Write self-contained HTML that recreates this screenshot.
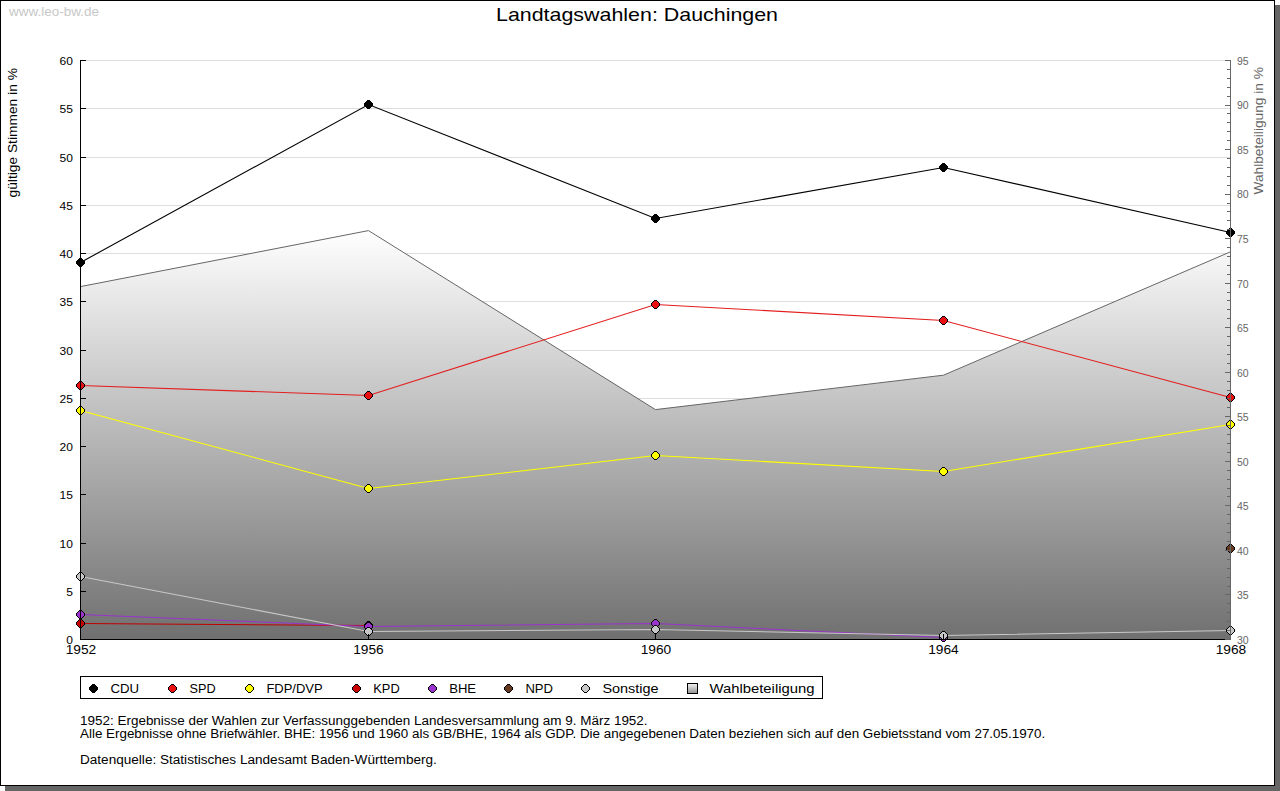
<!DOCTYPE html>
<html><head><meta charset="utf-8"><style>
html,body{margin:0;padding:0;background:#fff;width:1280px;height:791px;overflow:hidden}
svg{display:block}
text{font-family:"Liberation Sans",sans-serif}
</style></head><body>
<svg width="1280" height="791" viewBox="0 0 1280 791">
<defs>
<linearGradient id="ag" gradientUnits="userSpaceOnUse" x1="0" y1="230" x2="0" y2="639">
<stop offset="0" stop-color="#ffffff"/><stop offset="1" stop-color="#707070"/></linearGradient>
<linearGradient id="lg" x1="0" y1="0" x2="0" y2="1">
<stop offset="0" stop-color="#f4f4f4"/><stop offset="1" stop-color="#909090"/></linearGradient>
</defs>
<rect x="0" y="0" width="1280" height="791" fill="#fff"/>
<rect x="5" y="786" width="1275" height="5" fill="#666"/>
<rect x="1275" y="5" width="5" height="786" fill="#666"/>
<rect x="0.5" y="0.5" width="1274" height="785" fill="#fff" stroke="#000" stroke-width="1"/>

<text x="9" y="16" font-size="13.5" fill="#c8c8c8">www.leo-bw.de</text>
<text x="496" y="20.5" font-size="19" textLength="282.0" lengthAdjust="spacingAndGlyphs" fill="#000">Landtagswahlen: Dauchingen</text>
<text transform="translate(16.5,197.5) rotate(-90)" x="0" y="0" font-size="12" textLength="129.4" lengthAdjust="spacingAndGlyphs" fill="#000">gültige Stimmen in %</text>
<text transform="translate(1263,194.5) rotate(-90)" x="0" y="0" font-size="13.7" fill="#666">Wahlbeteiligung in %</text>
<path d="M81,591.5H1230 M81,543.5H1230 M81,494.5H1230 M81,446.5H1230 M81,398.5H1230 M81,350.5H1230 M81,301.5H1230 M81,253.5H1230 M81,205.5H1230 M81,157.5H1230 M81,108.5H1230 M81,60.5H1230" stroke="#dddddd" stroke-width="1" fill="none"/>
<polygon points="80,639 80.5,286.6 368.5,230.6 655.5,409.6 943.5,375.2 1230.5,251.8 1230,639" fill="url(#ag)"/>
<polyline points="80.5,286.6 368.5,230.6 655.5,409.6 943.5,375.2 1230.5,251.8" fill="none" stroke="#666" stroke-width="1"/>
<polyline points="80.5,262.5 368.5,104.5 655.5,218.5 943.5,167.5 1230.5,232.5" fill="none" stroke="#000000" stroke-width="1.1"/>
<polyline points="80.5,385.5 368.5,395.5 655.5,304.5 943.5,320.5 1230.5,397.5" fill="none" stroke="#e31e1e" stroke-width="1.1"/>
<polyline points="80.5,410.5 368.5,488.5 655.5,455.5 943.5,471.5 1230.5,424.5" fill="none" stroke="#ffff00" stroke-width="1.1"/>
<polyline points="80.5,623.5 368.5,625.5" fill="none" stroke="#c00000" stroke-width="1.1"/>
<polyline points="80.5,614.5 368.5,626.5 655.5,623.5 943.5,637.5" fill="none" stroke="#9933cc" stroke-width="1.1"/>
<polyline points="80.5,576.5 368.5,631.5 655.5,629.5 943.5,635.5 1230.5,630.5" fill="none" stroke="#c8c8c8" stroke-width="1.1"/>
<path d="M79.5,258.5 L81.5,258.5 L84.5,261.5 L84.5,263.5 L81.5,266.5 L79.5,266.5 L76.5,263.5 L76.5,261.5Z" fill="#000000" stroke="#000" stroke-width="1" shape-rendering="crispEdges"/>
<path d="M367.5,100.5 L369.5,100.5 L372.5,103.5 L372.5,105.5 L369.5,108.5 L367.5,108.5 L364.5,105.5 L364.5,103.5Z" fill="#000000" stroke="#000" stroke-width="1" shape-rendering="crispEdges"/>
<path d="M654.5,214.5 L656.5,214.5 L659.5,217.5 L659.5,219.5 L656.5,222.5 L654.5,222.5 L651.5,219.5 L651.5,217.5Z" fill="#000000" stroke="#000" stroke-width="1" shape-rendering="crispEdges"/>
<path d="M942.5,163.5 L944.5,163.5 L947.5,166.5 L947.5,168.5 L944.5,171.5 L942.5,171.5 L939.5,168.5 L939.5,166.5Z" fill="#000000" stroke="#000" stroke-width="1" shape-rendering="crispEdges"/>
<path d="M1229.5,228.5 L1231.5,228.5 L1234.5,231.5 L1234.5,233.5 L1231.5,236.5 L1229.5,236.5 L1226.5,233.5 L1226.5,231.5Z" fill="#000000" stroke="#000" stroke-width="1" shape-rendering="crispEdges"/>
<path d="M79.5,381.5 L81.5,381.5 L84.5,384.5 L84.5,386.5 L81.5,389.5 L79.5,389.5 L76.5,386.5 L76.5,384.5Z" fill="#e81010" stroke="#000" stroke-width="1" shape-rendering="crispEdges"/>
<path d="M367.5,391.5 L369.5,391.5 L372.5,394.5 L372.5,396.5 L369.5,399.5 L367.5,399.5 L364.5,396.5 L364.5,394.5Z" fill="#e81010" stroke="#000" stroke-width="1" shape-rendering="crispEdges"/>
<path d="M654.5,300.5 L656.5,300.5 L659.5,303.5 L659.5,305.5 L656.5,308.5 L654.5,308.5 L651.5,305.5 L651.5,303.5Z" fill="#e81010" stroke="#000" stroke-width="1" shape-rendering="crispEdges"/>
<path d="M942.5,316.5 L944.5,316.5 L947.5,319.5 L947.5,321.5 L944.5,324.5 L942.5,324.5 L939.5,321.5 L939.5,319.5Z" fill="#e81010" stroke="#000" stroke-width="1" shape-rendering="crispEdges"/>
<path d="M1229.5,393.5 L1231.5,393.5 L1234.5,396.5 L1234.5,398.5 L1231.5,401.5 L1229.5,401.5 L1226.5,398.5 L1226.5,396.5Z" fill="#e81010" stroke="#000" stroke-width="1" shape-rendering="crispEdges"/>
<path d="M79.5,406.5 L81.5,406.5 L84.5,409.5 L84.5,411.5 L81.5,414.5 L79.5,414.5 L76.5,411.5 L76.5,409.5Z" fill="#ffff00" stroke="#000" stroke-width="1" shape-rendering="crispEdges"/>
<path d="M367.5,484.5 L369.5,484.5 L372.5,487.5 L372.5,489.5 L369.5,492.5 L367.5,492.5 L364.5,489.5 L364.5,487.5Z" fill="#ffff00" stroke="#000" stroke-width="1" shape-rendering="crispEdges"/>
<path d="M654.5,451.5 L656.5,451.5 L659.5,454.5 L659.5,456.5 L656.5,459.5 L654.5,459.5 L651.5,456.5 L651.5,454.5Z" fill="#ffff00" stroke="#000" stroke-width="1" shape-rendering="crispEdges"/>
<path d="M942.5,467.5 L944.5,467.5 L947.5,470.5 L947.5,472.5 L944.5,475.5 L942.5,475.5 L939.5,472.5 L939.5,470.5Z" fill="#ffff00" stroke="#000" stroke-width="1" shape-rendering="crispEdges"/>
<path d="M1229.5,420.5 L1231.5,420.5 L1234.5,423.5 L1234.5,425.5 L1231.5,428.5 L1229.5,428.5 L1226.5,425.5 L1226.5,423.5Z" fill="#ffff00" stroke="#000" stroke-width="1" shape-rendering="crispEdges"/>
<path d="M79.5,619.5 L81.5,619.5 L84.5,622.5 L84.5,624.5 L81.5,627.5 L79.5,627.5 L76.5,624.5 L76.5,622.5Z" fill="#c80000" stroke="#000" stroke-width="1" shape-rendering="crispEdges"/>
<path d="M367.5,621.5 L369.5,621.5 L372.5,624.5 L372.5,626.5 L369.5,629.5 L367.5,629.5 L364.5,626.5 L364.5,624.5Z" fill="#c80000" stroke="#000" stroke-width="1" shape-rendering="crispEdges"/>
<path d="M79.5,610.5 L81.5,610.5 L84.5,613.5 L84.5,615.5 L81.5,618.5 L79.5,618.5 L76.5,615.5 L76.5,613.5Z" fill="#9933cc" stroke="#000" stroke-width="1" shape-rendering="crispEdges"/>
<path d="M367.5,622.5 L369.5,622.5 L372.5,625.5 L372.5,627.5 L369.5,630.5 L367.5,630.5 L364.5,627.5 L364.5,625.5Z" fill="#9933cc" stroke="#000" stroke-width="1" shape-rendering="crispEdges"/>
<path d="M654.5,619.5 L656.5,619.5 L659.5,622.5 L659.5,624.5 L656.5,627.5 L654.5,627.5 L651.5,624.5 L651.5,622.5Z" fill="#9933cc" stroke="#000" stroke-width="1" shape-rendering="crispEdges"/>
<path d="M942.5,633.5 L944.5,633.5 L947.5,636.5 L947.5,638.5 L944.5,641.5 L942.5,641.5 L939.5,638.5 L939.5,636.5Z" fill="#9933cc" stroke="#000" stroke-width="1" shape-rendering="crispEdges"/>
<path d="M1229.5,544.5 L1231.5,544.5 L1234.5,547.5 L1234.5,549.5 L1231.5,552.5 L1229.5,552.5 L1226.5,549.5 L1226.5,547.5Z" fill="#663a22" stroke="#000" stroke-width="1" shape-rendering="crispEdges"/>
<path d="M79.5,572.5 L81.5,572.5 L84.5,575.5 L84.5,577.5 L81.5,580.5 L79.5,580.5 L76.5,577.5 L76.5,575.5Z" fill="#c8c8c8" stroke="#000" stroke-width="1" shape-rendering="crispEdges"/>
<path d="M367.5,627.5 L369.5,627.5 L372.5,630.5 L372.5,632.5 L369.5,635.5 L367.5,635.5 L364.5,632.5 L364.5,630.5Z" fill="#c8c8c8" stroke="#000" stroke-width="1" shape-rendering="crispEdges"/>
<path d="M654.5,625.5 L656.5,625.5 L659.5,628.5 L659.5,630.5 L656.5,633.5 L654.5,633.5 L651.5,630.5 L651.5,628.5Z" fill="#c8c8c8" stroke="#000" stroke-width="1" shape-rendering="crispEdges"/>
<path d="M942.5,631.5 L944.5,631.5 L947.5,634.5 L947.5,636.5 L944.5,639.5 L942.5,639.5 L939.5,636.5 L939.5,634.5Z" fill="#c8c8c8" stroke="#000" stroke-width="1" shape-rendering="crispEdges"/>
<path d="M1229.5,626.5 L1231.5,626.5 L1234.5,629.5 L1234.5,631.5 L1231.5,634.5 L1229.5,634.5 L1226.5,631.5 L1226.5,629.5Z" fill="#c8c8c8" stroke="#000" stroke-width="1" shape-rendering="crispEdges"/>
<g shape-rendering="crispEdges">
<path d="M80.5,60V640" stroke="#000" stroke-width="1"/>
<path d="M80,639.5H1225" stroke="#000" stroke-width="1"/>
<path d="M80,639.5H86 M80,591.5H86 M80,543.5H86 M80,494.5H86 M80,446.5H86 M80,398.5H86 M80,350.5H86 M80,301.5H86 M80,253.5H86 M80,205.5H86 M80,157.5H86 M80,108.5H86 M80,60.5H86" stroke="#000" stroke-width="1"/>
<path d="M368.5,634V639 M655.5,634V639 M943.5,634V639 M1230.5,634V639" stroke="#000" stroke-width="1"/>
<path d="M1230.5,60V640" stroke="#666" stroke-width="1"/>
<path d="M1225,639.5H1230 M1227,630.5H1230 M1227,621.5H1230 M1227,612.5H1230 M1227,603.5H1230 M1225,594.5H1230 M1227,586.5H1230 M1227,577.5H1230 M1227,568.5H1230 M1227,559.5H1230 M1225,550.5H1230 M1227,541.5H1230 M1227,532.5H1230 M1227,523.5H1230 M1227,514.5H1230 M1225,505.5H1230 M1227,496.5H1230 M1227,488.5H1230 M1227,479.5H1230 M1227,470.5H1230 M1225,461.5H1230 M1227,452.5H1230 M1227,443.5H1230 M1227,434.5H1230 M1227,425.5H1230 M1225,416.5H1230 M1227,407.5H1230 M1227,398.5H1230 M1227,390.5H1230 M1227,381.5H1230 M1225,372.5H1230 M1227,363.5H1230 M1227,354.5H1230 M1227,345.5H1230 M1227,336.5H1230 M1225,327.5H1230 M1227,318.5H1230 M1227,309.5H1230 M1227,300.5H1230 M1227,292.5H1230 M1225,283.5H1230 M1227,274.5H1230 M1227,265.5H1230 M1227,256.5H1230 M1227,247.5H1230 M1225,238.5H1230 M1227,229.5H1230 M1227,220.5H1230 M1227,211.5H1230 M1227,203.5H1230 M1225,194.5H1230 M1227,185.5H1230 M1227,176.5H1230 M1227,167.5H1230 M1227,158.5H1230 M1225,149.5H1230 M1227,140.5H1230 M1227,131.5H1230 M1227,122.5H1230 M1227,113.5H1230 M1225,105.5H1230 M1227,96.5H1230 M1227,87.5H1230 M1227,78.5H1230 M1227,69.5H1230 M1225,60.5H1230" stroke="#666" stroke-width="1"/>
</g>
<text x="73" y="644.0" font-size="10.5" text-anchor="end" textLength="6.68" lengthAdjust="spacingAndGlyphs" fill="#000">0</text>
<text x="73" y="595.8" font-size="10.5" text-anchor="end" textLength="6.68" lengthAdjust="spacingAndGlyphs" fill="#000">5</text>
<text x="73" y="547.5" font-size="10.5" text-anchor="end" textLength="13.36" lengthAdjust="spacingAndGlyphs" fill="#000">10</text>
<text x="73" y="499.2" font-size="10.5" text-anchor="end" textLength="13.36" lengthAdjust="spacingAndGlyphs" fill="#000">15</text>
<text x="73" y="451.0" font-size="10.5" text-anchor="end" textLength="13.36" lengthAdjust="spacingAndGlyphs" fill="#000">20</text>
<text x="73" y="402.8" font-size="10.5" text-anchor="end" textLength="13.36" lengthAdjust="spacingAndGlyphs" fill="#000">25</text>
<text x="73" y="354.5" font-size="10.5" text-anchor="end" textLength="13.36" lengthAdjust="spacingAndGlyphs" fill="#000">30</text>
<text x="73" y="306.2" font-size="10.5" text-anchor="end" textLength="13.36" lengthAdjust="spacingAndGlyphs" fill="#000">35</text>
<text x="73" y="258.0" font-size="10.5" text-anchor="end" textLength="13.36" lengthAdjust="spacingAndGlyphs" fill="#000">40</text>
<text x="73" y="209.8" font-size="10.5" text-anchor="end" textLength="13.36" lengthAdjust="spacingAndGlyphs" fill="#000">45</text>
<text x="73" y="161.5" font-size="10.5" text-anchor="end" textLength="13.36" lengthAdjust="spacingAndGlyphs" fill="#000">50</text>
<text x="73" y="113.2" font-size="10.5" text-anchor="end" textLength="13.36" lengthAdjust="spacingAndGlyphs" fill="#000">55</text>
<text x="73" y="65.0" font-size="10.5" text-anchor="end" textLength="13.36" lengthAdjust="spacingAndGlyphs" fill="#000">60</text>
<text x="1237" y="643.8" font-size="10.5" fill="#666">30</text>
<text x="1237" y="599.3" font-size="10.5" fill="#666">35</text>
<text x="1237" y="554.7" font-size="10.5" fill="#666">40</text>
<text x="1237" y="510.2" font-size="10.5" fill="#666">45</text>
<text x="1237" y="465.6" font-size="10.5" fill="#666">50</text>
<text x="1237" y="421.1" font-size="10.5" fill="#666">55</text>
<text x="1237" y="376.6" font-size="10.5" fill="#666">60</text>
<text x="1237" y="332.0" font-size="10.5" fill="#666">65</text>
<text x="1237" y="287.5" font-size="10.5" fill="#666">70</text>
<text x="1237" y="242.9" font-size="10.5" fill="#666">75</text>
<text x="1237" y="198.4" font-size="10.5" fill="#666">80</text>
<text x="1237" y="153.9" font-size="10.5" fill="#666">85</text>
<text x="1237" y="109.3" font-size="10.5" fill="#666">90</text>
<text x="1237" y="64.8" font-size="10.5" fill="#666">95</text>
<text x="81.0" y="654" font-size="12" text-anchor="middle" textLength="30.54" lengthAdjust="spacingAndGlyphs" fill="#000">1952</text>
<text x="368.5" y="654" font-size="12" text-anchor="middle" textLength="30.54" lengthAdjust="spacingAndGlyphs" fill="#000">1956</text>
<text x="656.0" y="654" font-size="12" text-anchor="middle" textLength="30.54" lengthAdjust="spacingAndGlyphs" fill="#000">1960</text>
<text x="943.5" y="654" font-size="12" text-anchor="middle" textLength="30.54" lengthAdjust="spacingAndGlyphs" fill="#000">1964</text>
<text x="1231.0" y="654" font-size="12" text-anchor="middle" textLength="30.54" lengthAdjust="spacingAndGlyphs" fill="#000">1968</text>
<rect x="80.5" y="676.5" width="742" height="22" fill="#fff" stroke="#000" stroke-width="1" shape-rendering="crispEdges"/>
<path d="M92.5,684.5 L94.5,684.5 L97.5,687.5 L97.5,689.5 L94.5,692.5 L92.5,692.5 L89.5,689.5 L89.5,687.5Z" fill="#000000" stroke="#000" stroke-width="1" shape-rendering="crispEdges"/>
<text x="110.4" y="693" font-size="13" textLength="28.60" lengthAdjust="spacingAndGlyphs" fill="#000">CDU</text>
<path d="M171.5,684.5 L173.5,684.5 L176.5,687.5 L176.5,689.5 L173.5,692.5 L171.5,692.5 L168.5,689.5 L168.5,687.5Z" fill="#e81010" stroke="#000" stroke-width="1" shape-rendering="crispEdges"/>
<text x="189.6" y="693" font-size="13" textLength="26.10" lengthAdjust="spacingAndGlyphs" fill="#000">SPD</text>
<path d="M248.5,684.5 L250.5,684.5 L253.5,687.5 L253.5,689.5 L250.5,692.5 L248.5,692.5 L245.5,689.5 L245.5,687.5Z" fill="#ffff00" stroke="#000" stroke-width="1" shape-rendering="crispEdges"/>
<text x="266.4" y="693" font-size="13" textLength="56.22" lengthAdjust="spacingAndGlyphs" fill="#000">FDP/DVP</text>
<path d="M355.5,684.5 L357.5,684.5 L360.5,687.5 L360.5,689.5 L357.5,692.5 L355.5,692.5 L352.5,689.5 L352.5,687.5Z" fill="#c80000" stroke="#000" stroke-width="1" shape-rendering="crispEdges"/>
<text x="373.3" y="693" font-size="13" textLength="26.38" lengthAdjust="spacingAndGlyphs" fill="#000">KPD</text>
<path d="M431.5,684.5 L433.5,684.5 L436.5,687.5 L436.5,689.5 L433.5,692.5 L431.5,692.5 L428.5,689.5 L428.5,687.5Z" fill="#9933cc" stroke="#000" stroke-width="1" shape-rendering="crispEdges"/>
<text x="449.2" y="693" font-size="13" textLength="26.91" lengthAdjust="spacingAndGlyphs" fill="#000">BHE</text>
<path d="M507.5,684.5 L509.5,684.5 L512.5,687.5 L512.5,689.5 L509.5,692.5 L507.5,692.5 L504.5,689.5 L504.5,687.5Z" fill="#663a22" stroke="#000" stroke-width="1" shape-rendering="crispEdges"/>
<text x="525.4" y="693" font-size="13" textLength="27.58" lengthAdjust="spacingAndGlyphs" fill="#000">NPD</text>
<path d="M584.5,684.5 L586.5,684.5 L589.5,687.5 L589.5,689.5 L586.5,692.5 L584.5,692.5 L581.5,689.5 L581.5,687.5Z" fill="#c8c8c8" stroke="#000" stroke-width="1" shape-rendering="crispEdges"/>
<text x="602.4" y="693" font-size="13" textLength="56.18" lengthAdjust="spacingAndGlyphs" fill="#000">Sonstige</text>
<rect x="687.5" y="683.5" width="10" height="10" fill="url(#lg)" stroke="#000" stroke-width="1" shape-rendering="crispEdges"/>
<text x="709.5" y="693" font-size="13" textLength="105.01" lengthAdjust="spacingAndGlyphs" fill="#000">Wahlbeteiligung</text>
<text x="80" y="725" font-size="12" textLength="567.59" lengthAdjust="spacingAndGlyphs" fill="#000">1952: Ergebnisse der Wahlen zur Verfassunggebenden Landesversammlung am 9. März 1952.</text>
<text x="80" y="738" font-size="12" textLength="965.19" lengthAdjust="spacingAndGlyphs" fill="#000">Alle Ergebnisse ohne Briefwähler. BHE: 1956 und 1960 als GB/BHE, 1964 als GDP. Die angegebenen Daten beziehen sich auf den Gebietsstand vom 27.05.1970.</text>
<text x="80" y="764" font-size="12" textLength="356.82" lengthAdjust="spacingAndGlyphs" fill="#000">Datenquelle: Statistisches Landesamt Baden-Württemberg.</text>
</svg></body></html>
